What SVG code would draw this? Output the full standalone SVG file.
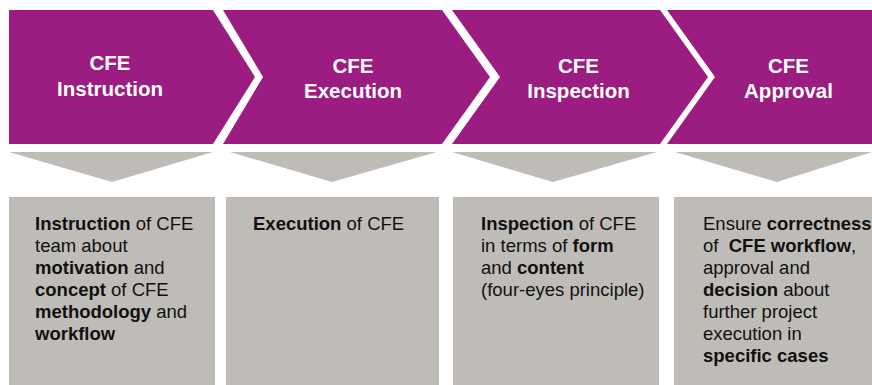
<svg xmlns="http://www.w3.org/2000/svg" width="872" height="385" viewBox="0 0 872 385">
<style>
.chev{fill:#9B1D81}
.tri{fill:#BFBCB7}
.box{fill:#BFBCB7}
.title{font-family:"Liberation Sans",Arial,sans-serif;font-weight:bold;font-size:20.5px;fill:#FFFFFF;text-anchor:middle}
.body{font-family:"Liberation Sans",Arial,sans-serif;font-size:18.5px;fill:#111111}
.b{font-weight:bold}
</style>
<rect width="872" height="385" fill="#FFFFFF"/>
<g id="step1">
<polygon class="chev" points="9,10 213,10 255,77 213,144 9,144"/>
<text class="title" x="110" y="70">CFE</text>
<text class="title" x="110" y="95.5">Instruction</text>
</g>
<g id="step2">
<polygon class="chev" points="223,10 442,10 490,77 442,144 223,144 263,77"/>
<text class="title" x="353" y="72.5">CFE</text>
<text class="title" x="353" y="97.5">Execution</text>
</g>
<g id="step3">
<polygon class="chev" points="452,10 660,10 708,77 660,144 452,144 500,77"/>
<text class="title" x="578.5" y="72.5">CFE</text>
<text class="title" x="578.5" y="97.5">Inspection</text>
</g>
<g id="step4">
<polygon class="chev" points="667,10 872,10 872,144 667,144 715,77"/>
<text class="title" x="788.5" y="72.5">CFE</text>
<text class="title" x="788.5" y="97.5">Approval</text>
</g>
<g id="connectors">
<polygon class="tri" points="9,152 213,152 112,182"/>
<polygon class="tri" points="230,152 437,152 332,182"/>
<polygon class="tri" points="452,152 657,152 553,182"/>
<polygon class="tri" points="675,152 872,152 777,182"/>
</g>
<g id="desc1">
<rect class="box" x="9" y="197" width="206" height="188"/>
<text class="body" x="35" y="230"><tspan class="b">Instruction</tspan> of CFE</text>
<text class="body" x="35" y="252">team about</text>
<text class="body" x="35" y="274"><tspan class="b">motivation</tspan> and</text>
<text class="body" x="35" y="296"><tspan class="b">concept</tspan> of CFE</text>
<text class="body" x="35" y="318"><tspan class="b">methodology</tspan> and</text>
<text class="body" x="35" y="340"><tspan class="b">workflow</tspan></text>
</g>
<g id="desc2">
<rect class="box" x="226" y="197" width="213" height="188"/>
<text class="body" x="253" y="230"><tspan class="b">Execution</tspan> of CFE</text>
</g>
<g id="desc3">
<rect class="box" x="453" y="197" width="206" height="188"/>
<text class="body" x="481" y="230"><tspan class="b">Inspection</tspan> of CFE</text>
<text class="body" x="481" y="252">in terms of <tspan class="b">form</tspan></text>
<text class="body" x="481" y="274">and <tspan class="b">content</tspan></text>
<text class="body" x="481" y="296">(four-eyes principle)</text>
</g>
<g id="desc4">
<rect class="box" x="674" y="197" width="198" height="188"/>
<text class="body" x="703" y="230">Ensure <tspan class="b">correctness</tspan></text>
<text class="body" x="703" y="252" xml:space="preserve">of  <tspan class="b">CFE workflow</tspan>,</text>
<text class="body" x="703" y="274">approval and</text>
<text class="body" x="703" y="296"><tspan class="b">decision</tspan> about</text>
<text class="body" x="703" y="318">further project</text>
<text class="body" x="703" y="340">execution in</text>
<text class="body" x="703" y="362"><tspan class="b">specific cases</tspan></text>
</g>
</svg>
